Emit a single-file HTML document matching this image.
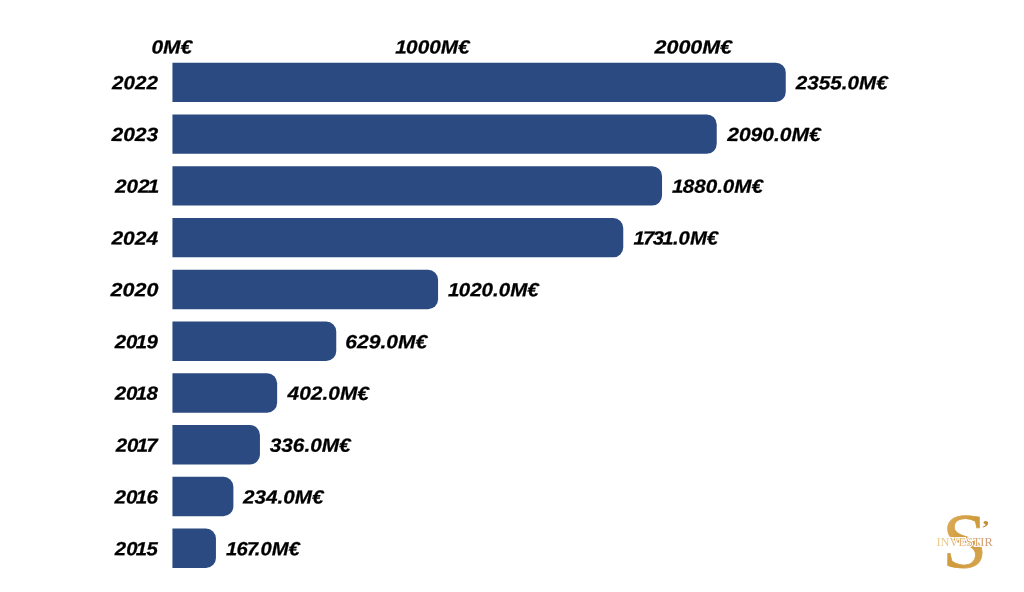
<!DOCTYPE html>
<html lang="fr"><head><meta charset="utf-8"><title>Chart</title>
<style>
html,body{margin:0;padding:0;background:#fff;}
body{width:1024px;height:592px;position:relative;overflow:hidden;font-family:"Liberation Sans",sans-serif;font-weight:bold;font-style:italic;color:#000;}
.bars{position:absolute;left:0;top:0;}
.t{position:absolute;font-size:19px;line-height:24px;height:24px;white-space:nowrap;left:0;top:0;transform-origin:0 0;-webkit-text-stroke:0.25px #000;}
.o{margin:0 -0.6px 0 -1.6px;}
.k{margin-right:-1.5px;}
.s{margin:0 -1.5px 0 -1.0px;}
.logo{position:absolute;left:924px;top:502px;width:80px;height:80px;}
</style></head><body>
<svg class="bars" width="1024" height="592" viewBox="0 0 1024 592" fill="#2a4a81"><path d="M172.45 62.65H775.75A10 10 0 0 1 785.75 72.65V92.05A10 10 0 0 1 775.75 102.05H172.45Z"/>
<path d="M172.45 114.42H706.74A10 10 0 0 1 716.74 124.42V143.82A10 10 0 0 1 706.74 153.82H172.45Z"/>
<path d="M172.45 166.19H652.05A10 10 0 0 1 662.05 176.19V195.59A10 10 0 0 1 652.05 205.59H172.45Z"/>
<path d="M172.45 217.96H613.25A10 10 0 0 1 623.25 227.96V247.36A10 10 0 0 1 613.25 257.36H172.45Z"/>
<path d="M172.45 269.73H428.08A10 10 0 0 1 438.08 279.73V299.13A10 10 0 0 1 428.08 309.13H172.45Z"/>
<path d="M172.45 321.50H326.26A10 10 0 0 1 336.26 331.50V350.90A10 10 0 0 1 326.26 360.90H172.45Z"/>
<path d="M172.45 373.27H267.14A10 10 0 0 1 277.14 383.27V402.67A10 10 0 0 1 267.14 412.67H172.45Z"/>
<path d="M172.45 425.04H249.95A10 10 0 0 1 259.95 435.04V454.44A10 10 0 0 1 249.95 464.44H172.45Z"/>
<path d="M172.45 476.81H223.39A10 10 0 0 1 233.39 486.81V506.21A10 10 0 0 1 223.39 516.21H172.45Z"/>
<path d="M172.45 528.58H205.94A10 10 0 0 1 215.94 538.58V557.98A10 10 0 0 1 205.94 567.98H172.45Z"/></svg>
<div class="t" style="transform:translate(112.09px,71.25px) scaleX(1.0835) rotate(0.03deg)">2022</div>
<div class="t" style="transform:translate(795.73px,71.25px) scaleX(1.0889) rotate(0.03deg)">2355.0M€</div>
<div class="t" style="transform:translate(111.44px,123.08px) scaleX(1.1071) rotate(0.03deg)">2023</div>
<div class="t" style="transform:translate(727.23px,122.96px) scaleX(1.1064) rotate(0.03deg)">2090.0M€</div>
<div class="t" style="transform:translate(114.89px,174.78px) scaleX(1.0907) rotate(0.03deg)">202<span class="o">1</span></div>
<div class="t" style="transform:translate(673.63px,174.78px) scaleX(1.0852) rotate(0.03deg)"><span class="o">1</span>880.0M€</div>
<div class="t" style="transform:translate(111.44px,226.62px) scaleX(1.1024) rotate(0.03deg)">2024</div>
<div class="t" style="transform:translate(635.10px,226.49px) scaleX(1.0688) rotate(0.03deg)"><span class="o">1</span><span class="s">7</span>3<span class="o">1</span>.0M€</div>
<div class="t" style="transform:translate(110.61px,278.32px) scaleX(1.1287) rotate(0.03deg)">2020</div>
<div class="t" style="transform:translate(449.67px,278.32px) scaleX(1.0817) rotate(0.03deg)"><span class="o">1</span>020.0M€</div>
<div class="t" style="transform:translate(114.68px,330.15px) scaleX(1.0765) rotate(0.03deg)">20<span class="o">1</span>9</div>
<div class="t" style="transform:translate(345.33px,330.15px) scaleX(1.1088) rotate(0.03deg)">629.0M€</div>
<div class="t" style="transform:translate(114.68px,381.85px) scaleX(1.0815) rotate(0.03deg)">20<span class="o">1</span>8</div>
<div class="t" style="transform:translate(287.55px,381.85px) scaleX(1.1010) rotate(0.03deg)">402.0M€</div>
<div class="t" style="transform:translate(115.68px,433.68px) scaleX(1.0758) rotate(0.03deg)">20<span class="o">1</span><span class="s">7</span></div>
<div class="t" style="transform:translate(269.70px,433.68px) scaleX(1.0950) rotate(0.03deg)">336.0M€</div>
<div class="t" style="transform:translate(114.43px,485.39px) scaleX(1.0871) rotate(0.03deg)">20<span class="o">1</span>6</div>
<div class="t" style="transform:translate(243.09px,485.39px) scaleX(1.0870) rotate(0.03deg)">234.0M€</div>
<div class="t" style="transform:translate(114.88px,537.22px) scaleX(1.0712) rotate(0.03deg)">20<span class="o">1</span>5</div>
<div class="t" style="transform:translate(227.64px,537.22px) scaleX(1.0643) rotate(0.03deg)"><span class="o">1</span>6<span class="k"><span class="s">7</span></span>.0M€</div>
<div class="t" style="transform:translate(151.42px,35.47px) scaleX(1.1027) rotate(0.03deg)">0M€</div>
<div class="t" style="transform:translate(396.98px,35.47px) scaleX(1.0909) rotate(0.03deg)"><span class="o">1</span>000M€</div>
<div class="t" style="transform:translate(654.56px,35.47px) scaleX(1.1279) rotate(0.03deg)">2000M€</div>
<svg class="logo" viewBox="0 0 80 80">
<defs>
<linearGradient id="g1" x1="0" y1="0" x2="1" y2="1"><stop offset="0" stop-color="#e3b566"/><stop offset="0.5" stop-color="#cf9a3c"/><stop offset="1" stop-color="#d9a956"/></linearGradient>
<linearGradient id="g2" x1="0" y1="0" x2="1" y2="0"><stop offset="0" stop-color="#ecd08f"/><stop offset="0.5" stop-color="#e2b27c"/><stop offset="1" stop-color="#cc9a78"/></linearGradient>
</defs>
<text transform="translate(18.26,65.26) scale(1.0086,0.9890)" font-family="Liberation Serif, serif" font-size="80" font-style="normal" font-weight="normal" fill="url(#g1)" stroke="url(#g1)" stroke-width="0.7">S</text>
<text transform="translate(57.16,33.07) scale(1.1898,0.9644)" font-family="Liberation Serif, serif" font-size="22" font-style="normal" font-weight="bold" fill="#c48a34">’</text>
<text transform="translate(12.49,44.16) scale(0.9156,0.9570)" font-family="Liberation Serif, serif" font-size="13.5" font-style="normal" font-weight="normal" fill="url(#g2)" stroke="#fff" stroke-width="2.2" paint-order="stroke">INVESTIR</text>
</svg>
</body></html>
